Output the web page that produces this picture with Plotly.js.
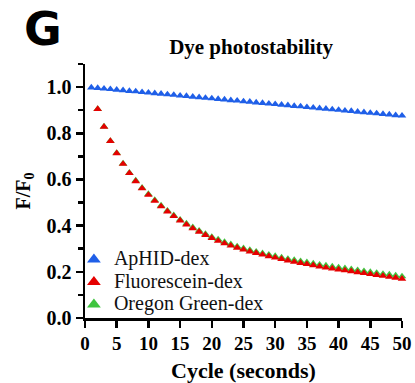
<!DOCTYPE html>
<html>
<head>
<meta charset="utf-8">
<script src="https://cdn.plot.ly/plotly-3.0.1.min.js"></script>
<style>html,body{margin:0;padding:0;background:#fff;}#chart{width:415px;height:383px;}</style>
</head>
<body>
<div id="chart"></div>
<script>
const cyclesApHID = [1,2,3,4,5,6,7,8,9,10,11,12,13,14,15,16,17,18,19,20,21,22,23,24,25,26,27,28,29,30,31,32,33,34,35,36,37,38,39,40,41,42,43,44,45,46,47,48,49,50];
const apHID = [0.998,0.996,0.993,0.991,0.988,0.986,0.983,0.981,0.978,0.976,0.973,0.971,0.968,0.966,0.963,0.961,0.958,0.956,0.953,0.951,0.948,0.946,0.943,0.941,0.938,0.936,0.933,0.931,0.928,0.926,0.923,0.921,0.918,0.916,0.913,0.911,0.908,0.906,0.903,0.901,0.898,0.896,0.893,0.891,0.888,0.886,0.883,0.881,0.878,0.876];
const cyclesDex = [2,3,4,5,6,7,8,9,10,11,12,13,14,15,16,17,18,19,20,21,22,23,24,25,26,27,28,29,30,31,32,33,34,35,36,37,38,39,40,41,42,43,44,45,46,47,48,49,50];
const fluorescein = [0.905,0.828,0.766,0.713,0.667,0.627,0.592,0.561,0.533,0.507,0.483,0.461,0.441,0.422,0.404,0.388,0.373,0.359,0.346,0.334,0.323,0.313,0.304,0.296,0.288,0.281,0.274,0.267,0.261,0.255,0.249,0.243,0.238,0.233,0.228,0.223,0.218,0.214,0.210,0.206,0.202,0.198,0.194,0.190,0.186,0.182,0.178,0.174,0.170];
const oregonGreen = [0.905,0.829,0.767,0.715,0.669,0.629,0.595,0.564,0.537,0.511,0.487,0.465,0.445,0.426,0.409,0.393,0.378,0.364,0.351,0.340,0.329,0.319,0.310,0.302,0.294,0.287,0.280,0.274,0.268,0.262,0.256,0.251,0.246,0.241,0.236,0.231,0.227,0.223,0.219,0.215,0.211,0.207,0.203,0.199,0.195,0.191,0.188,0.184,0.180];
const seriesNames = ["ApHID-dex", "Fluorescein-dex", "Oregon Green-dex"];
const xTicks = [0,5,10,15,20,25,30,35,40,45,50];
const yTicks = [0.0,0.2,0.4,0.6,0.8,1.0];

const serif = "Liberation Serif";
const mk = (c) => ({symbol: "triangle-up", size: 7.5, color: c, line: {width: 0}});
const legName = (s) => '<span style="font-size:20px">' + s + '</span>';

const traces = [
  {x: cyclesApHID, y: apHID, name: legName(seriesNames[0]), type: "scatter", mode: "markers", marker: mk("#1f5fe8"), cliponaxis: false, legendrank: 1},
  {x: cyclesDex, y: oregonGreen, name: legName(seriesNames[2]), type: "scatter", mode: "markers", marker: mk("#3fc43f"), cliponaxis: false, legendrank: 3},
  {x: cyclesDex, y: fluorescein, name: legName(seriesNames[1]), type: "scatter", mode: "markers", marker: mk("#e50000"), cliponaxis: false, legendrank: 2}
];

const layout = {
  width: 415, height: 383,
  margin: {l: 85, r: 13, t: 64, b: 65},
  paper_bgcolor: "#fff", plot_bgcolor: "#fff",
  showlegend: true,
  legend: {x: -0.035, y: -0.013, xanchor: "left", yanchor: "bottom", bgcolor: "rgba(0,0,0,0)",
    font: {family: serif, size: 15, color: "#111"}, itemsizing: "constant", itemwidth: 30, tracegroupgap: 0, traceorder: "normal"},
  title: {text: "<b>Dye photostability</b>", x: 0.524, xref: "paper", xanchor: "center", y: 0.877, yref: "container", yanchor: "middle",
    font: {family: serif, size: 21, color: "#000"}},
  xaxis: {range: [0, 50], tickvals: xTicks, ticks: "outside", ticklen: 7, tickwidth: 2.5, tickcolor: "#000",
    showline: true, linewidth: 2.5, linecolor: "#000", showgrid: false, zeroline: false,
    tickfont: {family: serif, size: 19, color: "#000", weight: "bold"},
    title: {text: "<b>Cycle (seconds)</b>", font: {family: serif, size: 22, color: "#000"}, standoff: 11}},
  yaxis: {range: [0, 1.1], tickvals: yTicks, tickformat: ".1f", ticks: "outside", ticklen: 7, tickwidth: 2.5, tickcolor: "#000",
    showline: true, linewidth: 2.5, linecolor: "#000", showgrid: false, zeroline: false,
    minor: {dtick: 0.1, tick0: 0, ticks: "outside", ticklen: 5, tickwidth: 2.5, tickcolor: "#000"},
    tickfont: {family: serif, size: 20, color: "#000", weight: "bold"},
    title: {text: "<b>F/F<sub>0</sub></b>", font: {family: serif, size: 20, color: "#000"}, standoff: 11}},
  annotations: [
    {text: "<b>G</b>", xref: "paper", yref: "paper", x: -0.132, y: 1.138, xanchor: "center", yanchor: "middle",
     showarrow: false, font: {family: "DejaVu Sans", size: 46, color: "#000"}}
  ]
};

Plotly.newPlot("chart", traces, layout, {staticPlot: true, displayModeBar: false});
</script>
</body>
</html>
